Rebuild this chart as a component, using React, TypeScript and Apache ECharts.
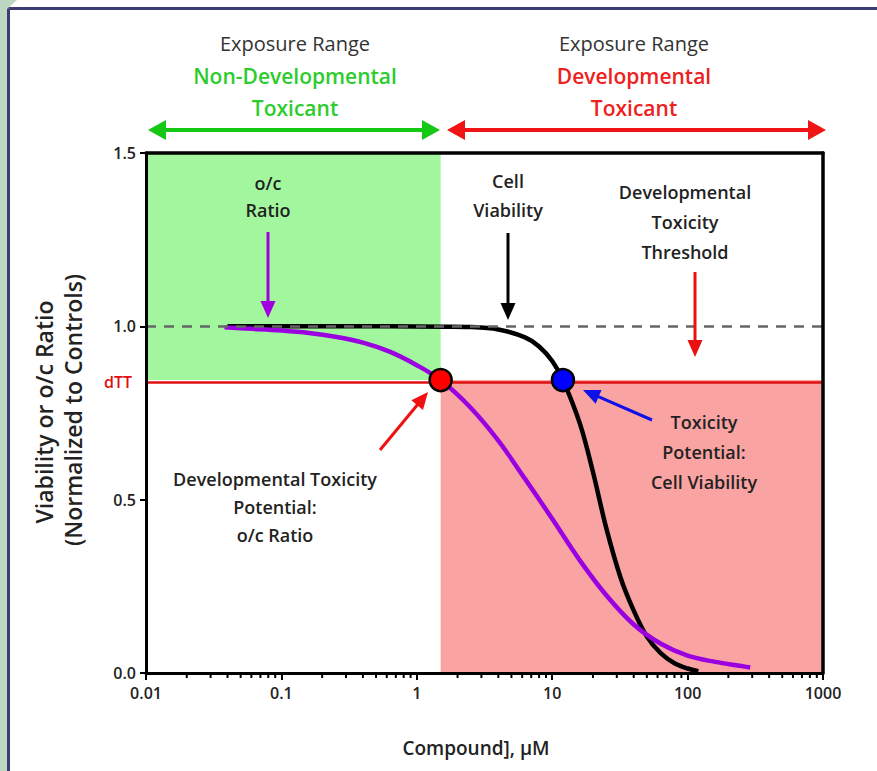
import React, { useEffect, useRef } from "react";
import * as echarts from "echarts";

// ---- data ----
const xTickLabels = ["0.01", "0.1", "1", "10", "100", "1000"];
const yTickValues = [0, 0.5, 1.0, 1.5];
const dTT = 0.845;
const greenZone = [0.01, 1.5]; // non-developmental exposure range (x)
const redZone = [1.5, 1000]; // developmental exposure range (x)

// Cell viability curve [concentration µM, normalized value]
const cellViability: [number, number][] = [
  [0.04, 1.0], [0.16, 1.0], [0.63, 1.0], [1.6, 0.999], [2.5, 0.998],
  [4.0, 0.991], [6.3, 0.968], [8.0, 0.942], [10.0, 0.9], [12.0, 0.845],
  [16.0, 0.72], [20.0, 0.58], [25.0, 0.42], [32.0, 0.275], [40.0, 0.18],
  [50.0, 0.105], [63.0, 0.058], [80.0, 0.028], [100, 0.013], [120, 0.005],
];

// o/c ratio curve
const ocRatio: [number, number][] = [
  [0.038, 0.997], [0.06, 0.993], [0.1, 0.988], [0.16, 0.981], [0.25, 0.97],
  [0.4, 0.953], [0.63, 0.927], [1.0, 0.888], [1.5, 0.845], [2.5, 0.765],
  [4.0, 0.67], [6.3, 0.56], [10.0, 0.445], [16.0, 0.325], [25.0, 0.225],
  [40.0, 0.14], [63.0, 0.085], [100, 0.05], [160, 0.032], [250, 0.02],
  [290, 0.016],
];

const dtpOc: [number, number][] = [[1.5, dTT]];
const tpCell: [number, number][] = [[12.0, dTT]];

const minorTicks = [
  0.02, 0.03, 0.04, 0.05, 0.06, 0.07, 0.08, 0.09,
  0.2, 0.3, 0.4, 0.5, 0.6, 0.7, 0.8, 0.9,
  2, 3, 4, 5, 6, 7, 8, 9,
  20, 30, 40, 50, 60, 70, 80, 90,
  200, 300, 400, 500, 600, 700, 800, 900,
];

const FONT = "'Open Sans', 'Noto Sans', sans-serif";

function arrowHead(x2: number, y2: number, ux: number, uy: number, color: string, hl: number, hw: number) {
  const bx = x2 - ux * hl;
  const by = y2 - uy * hl;
  const px = -uy;
  const py = ux;
  return {
    type: "polygon",
    shape: { points: [[x2, y2], [bx + (px * hw) / 2, by + (py * hw) / 2], [bx - (px * hw) / 2, by - (py * hw) / 2]] },
    style: { fill: color },
    z: 100,
  };
}

function arrow(x1: number, y1: number, x2: number, y2: number, color: string, lw: number, hl: number, hw: number) {
  const dx = x2 - x1, dy = y2 - y1;
  const len = Math.hypot(dx, dy);
  const ux = dx / len, uy = dy / len;
  return [
    { type: "line", shape: { x1, y1, x2: x2 - ux * hl * 0.8, y2: y2 - uy * hl * 0.8 }, style: { stroke: color, lineWidth: lw }, z: 100 },
    arrowHead(x2, y2, ux, uy, color, hl, hw),
  ];
}

function dblArrow(x1: number, x2: number, y: number, color: string) {
  return [
    { type: "line", shape: { x1: x1 + 14, y1: y, x2: x2 - 14, y2: y }, style: { stroke: color, lineWidth: 4 }, z: 100 },
    arrowHead(x2, y, 1, 0, color, 18, 20),
    arrowHead(x1, y, -1, 0, color, 18, 20),
  ];
}

function txt(x: number, y: number, text: string, fill: string, font: string, rotation = 0) {
  return {
    type: "text",
    x,
    y,
    rotation,
    z: 100,
    style: { text, fill, font, textAlign: "center", textVerticalAlign: "middle", align: "center", verticalAlign: "middle" },
  };
}

export default function App() {
  const ref = useRef<HTMLDivElement>(null);

  useEffect(() => {
    if (!ref.current) return;
    const chart = echarts.init(ref.current, undefined, { renderer: "svg" });

    const headFont = `20px ${FONT}`;
    const headBold = `600 21px ${FONT}`;
    const annFont = `600 18px ${FONT}`;
    const green = "#2ccc2c";
    const red = "#ee2020";

    const graphic: any[] = [
      // page frame
      { type: "rect", shape: { x: 0, y: 0, width: 7, height: 771 }, style: { fill: "#bcd6c0" }, z: 90 },
      { type: "polygon", shape: { points: [[0, 0], [17, 0], [7, 9], [0, 9]] }, style: { fill: "#bcd6c0" }, z: 90 },
      { type: "line", shape: { x1: 8.5, y1: 8.5, x2: 877, y2: 8.5 }, style: { stroke: "#3c3c78", lineWidth: 3 }, z: 91 },
      { type: "line", shape: { x1: 8.5, y1: 8.5, x2: 8.5, y2: 771 }, style: { stroke: "#3c3c78", lineWidth: 3 }, z: 91 },
      // header
      txt(295, 43, "Exposure Range", "#333", headFont),
      txt(295, 76, "Non-Developmental", green, headBold),
      txt(295, 108, "Toxicant", green, headBold),
      txt(634, 43, "Exposure Range", "#333", headFont),
      txt(634, 76, "Developmental", red, headBold),
      txt(634, 108, "Toxicant", red, headBold),
      ...dblArrow(148, 440, 130, "#14c814"),
      ...dblArrow(447, 826, 130, "#f01414"),
      // annotations
      txt(268, 183, "o/c", "#222", annFont),
      txt(268, 210, "Ratio", "#222", annFont),
      ...arrow(268, 232, 268, 318, "#a000e0", 3, 17, 15),
      txt(508, 181, "Cell", "#222", annFont),
      txt(508, 210, "Viability", "#222", annFont),
      ...arrow(508, 233, 508, 320, "#000", 3, 17, 15),
      txt(685, 192, "Developmental", "#222", annFont),
      txt(685, 222, "Toxicity", "#222", annFont),
      txt(685, 252, "Threshold", "#222", annFont),
      ...arrow(695, 272, 695, 357, "#e81010", 3, 17, 15),
      txt(704, 422, "Toxicity", "#222", annFont),
      txt(704, 452, "Potential:", "#222", annFont),
      txt(704, 482, "Cell Viability", "#222", annFont),
      ...arrow(652, 420, 583, 390, "#1010e8", 3, 17, 15),
      txt(275, 479, "Developmental Toxicity", "#222", annFont),
      txt(275, 507, "Potential:", "#222", annFont),
      txt(275, 535, "o/c Ratio", "#222", annFont),
      ...arrow(380, 450, 428, 392, "#f01010", 3, 17, 15),
      // axis titles
      txt(44, 412, "Viability or o/c Ratio", "#222", `600 23px ${FONT}`, Math.PI / 2),
      txt(73, 410, "(Normalized to Controls)", "#222", `600 23px ${FONT}`, Math.PI / 2),
      txt(476, 748, "Compound], \u03bcM", "#222", `600 19px ${FONT}`),
    ];

    chart.setOption({
      animation: false,
      backgroundColor: "#ffffff",
      grid: { left: 146, right: 54, top: 153, bottom: 98, containLabel: false },
      xAxis: [
        {
          type: "log",
          logBase: 10,
          min: 0.01,
          max: 1000,
          z: 10,
          axisLine: { show: true, onZero: false, lineStyle: { color: "#000", width: 3 } },
          axisTick: { show: true, inside: false, length: 7, lineStyle: { color: "#000", width: 2 } },
          axisLabel: {
            color: "#222",
            fontFamily: FONT,
            fontSize: 16,
            fontWeight: 600,
            margin: 12,
            formatter: (v: number) => xTickLabels[Math.round(Math.log10(v)) + 2],
          },
          splitLine: { show: false },
        },
        {
          type: "log",
          logBase: 10,
          min: 0.01,
          max: 1000,
          position: "top",
          z: 10,
          axisLine: { show: true, onZero: false, lineStyle: { color: "#000", width: 3.5 } },
          axisTick: { show: false },
          axisLabel: { show: false },
          splitLine: { show: false },
        },
      ],
      yAxis: [
        {
          type: "value",
          min: 0,
          max: 1.5,
          interval: 0.5,
          z: 10,
          axisLine: { show: true, onZero: false, lineStyle: { color: "#000", width: 3 } },
          axisTick: { show: true, inside: false, length: 6, lineStyle: { color: "#000", width: 2 } },
          axisLabel: {
            color: "#222",
            fontFamily: FONT,
            fontSize: 16,
            fontWeight: 600,
            margin: 10,
            formatter: (v: number) => (yTickValues.includes(v) ? v.toFixed(1) : ""),
          },
          splitLine: { show: false },
        },
        {
          type: "value",
          min: 0,
          max: 1.5,
          position: "right",
          z: 10,
          axisLine: { show: true, onZero: false, lineStyle: { color: "#000", width: 3.5 } },
          axisTick: { show: false },
          axisLabel: { show: false },
          splitLine: { show: false },
        },
      ],
      series: [
        {
          type: "line",
          name: "zones",
          data: [],
          z: 1,
          silent: true,
          markArea: {
            silent: true,
            data: [
              [
                { xAxis: greenZone[0], yAxis: dTT, itemStyle: { color: "#a2f79e", opacity: 1 } },
                { xAxis: greenZone[1], yAxis: 1.5 },
              ],
              [
                { xAxis: redZone[0], yAxis: 0, itemStyle: { color: "#f9a3a3", opacity: 1 } },
                { xAxis: redZone[1], yAxis: dTT },
              ],
            ],
          },
          markLine: {
            silent: true,
            symbol: "none",
            data: [
              {
                yAxis: 1.0,
                lineStyle: { color: "#666", width: 2.5, type: [10, 8] },
                label: { show: false },
              },
            ],
          },
        },
        {
          type: "line",
          name: "Cell Viability",
          data: cellViability,
          smooth: 0.35,
          showSymbol: false,
          symbol: "none",
          z: 3,
          lineStyle: { color: "#000", width: 4.5 },
        },
        {
          type: "line",
          name: "o/c Ratio",
          data: ocRatio,
          smooth: 0.35,
          showSymbol: false,
          symbol: "none",
          z: 4,
          lineStyle: { color: "#9b00e0", width: 4.5 },
        },
        {
          type: "line",
          name: "threshold",
          data: [],
          z: 5,
          markLine: {
            silent: true,
            symbol: "none",
            data: [
              {
                yAxis: dTT,
                lineStyle: { color: "#e01010", width: 2.5, type: "solid" },
                label: { show: true, position: "start", formatter: "dTT", color: "#e01010", fontFamily: FONT, fontSize: 16, fontWeight: 600, distance: 14 },
              },
            ],
          },
        },
        {
          type: "scatter",
          name: "Developmental Toxicity Potential",
          data: dtpOc,
          symbolSize: 22,
          z: 6,
          itemStyle: { color: "#ff0000", borderColor: "#000", borderWidth: 2.5, opacity: 1 },
        },
        {
          type: "scatter",
          name: "Toxicity Potential",
          data: tpCell,
          symbolSize: 22,
          z: 6,
          itemStyle: { color: "#0000ff", borderColor: "#000", borderWidth: 2.5, opacity: 1 },
        },
        {
          type: "custom",
          name: "minor ticks",
          data: minorTicks.map((v) => [v, 0]),
          z: 10,
          silent: true,
          clip: false,
          renderItem: (_params: any, api: any) => {
            const p = api.coord([api.value(0), 0]);
            return {
              type: "line",
              shape: { x1: p[0], y1: p[1], x2: p[0], y2: p[1] + 5 },
              style: { stroke: "#000", lineWidth: 2 },
            };
          },
        },
      ],
      graphic,
    });

    return () => chart.dispose();
  }, []);

  return (
    <div
      ref={ref}
      style={{ position: "fixed", left: 0, top: 0, width: 877, height: 771, background: "#fff" }}
    />
  );
}
